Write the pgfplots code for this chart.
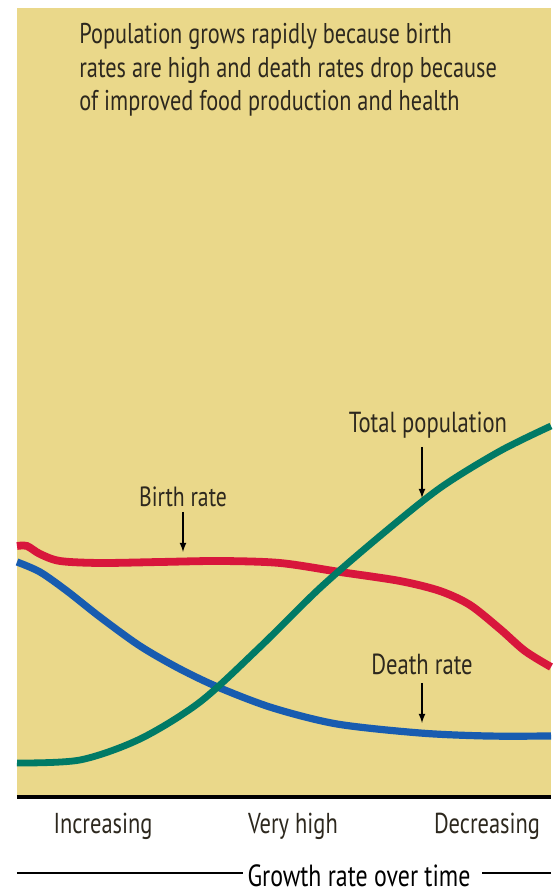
\documentclass[border=0pt]{standalone}
\usepackage{fontspec}
\setmainfont{PT Sans}[FakeStretch=0.78]
\usepackage{pgfplots}
\pgfplotsset{compat=1.18}
\definecolor{bgyellow}{RGB}{234,216,138}
\definecolor{brred}{RGB}{216,22,60}
\definecolor{drblue}{RGB}{24,92,176}
\definecolor{tpgreen}{RGB}{0,122,102}
\definecolor{txt}{RGB}{45,40,30}
\begin{document}
\begin{tikzpicture}
\begin{axis}[
  scale only axis,
  width=267pt, height=394.5pt,
  xmin=17, xmax=551, ymin=95, ymax=884,
  axis background/.style={fill=bgyellow},
  axis x line*=bottom, axis y line=none,
  x axis line style={line width=1.6pt,-},
  xtick={103,293,487},
  xticklabels={Increasing,Very high,Decreasing},
  xtick style={draw=none},
  ytick=\empty,
  xticklabel style={font=\fontsize{14.4}{16}\selectfont, text=txt, anchor=base, yshift=-18pt},
  xlabel={Growth rate over time},
  xlabel style={at={(axis cs:359,6)}, anchor=base, font=\fontsize{15.3}{17}\selectfont, text=black, inner sep=0pt},
  clip=false,
]
\path (axis cs:0,0) rectangle (axis cs:551,892);
\draw[black, line width=0.6pt] (axis cs:17,19) -- (axis cs:243,19);
\draw[black, line width=0.6pt] (axis cs:482,19) -- (axis cs:551,19);
% death rate (blue)
\addplot[drblue, line width=3.6pt, smooth] coordinates {
(17,330) (40,320) (67,301) (100,275) (140,246) (180,223) (220,204) (273,184) (337,168) (420,159) (487,156) (551,156)
};
% birth rate (red)
\addplot[brred, line width=3.9pt, smooth] coordinates {
(17,346) (27,346) (40,338) (60,331) (100,329) (160,330) (220,331) (280,329) (340,320) (400,311) (440,301) (470,287) (500,263) (525,241) (551,225)
};
% total population (green)
\addplot[tpgreen, line width=3.4pt, smooth] coordinates {
(17,129) (80,132) (140,153) (200,190) (260,245) (320,304) (380,356) (440,404) (500,441) (551,466)
};
\node[anchor=base west, inner sep=0pt, text=txt, font=\fontsize{14.3}{16}\selectfont] at (axis cs:79,848) {Population grows rapidly because birth};
\node[anchor=base west, inner sep=0pt, text=txt, font=\fontsize{14.3}{16}\selectfont] at (axis cs:79,814.5) {rates are high and death rates drop because};
\node[anchor=base west, inner sep=0pt, text=txt, font=\fontsize{14.3}{16}\selectfont] at (axis cs:79,781) {of improved food production and health};
\node[anchor=base, inner sep=0pt, text=txt, font=\fontsize{13.9}{16}\selectfont] at (axis cs:183,385) {Birth rate};
\draw[-latex, black, line width=0.6pt] (axis cs:183,380) -- (axis cs:183,340);
\node[anchor=base, inner sep=0pt, text=txt, font=\fontsize{14.5}{16}\selectfont] at (axis cs:428,459) {Total population};
\draw[-latex, black, line width=0.6pt] (axis cs:422,445) -- (axis cs:422,394);
\node[anchor=base, inner sep=0pt, text=txt, font=\fontsize{14.5}{16}\selectfont] at (axis cs:422,217) {Death rate};
\draw[-latex, black, line width=0.6pt] (axis cs:422,209) -- (axis cs:422,169);
\end{axis}
\end{tikzpicture}
\end{document}
